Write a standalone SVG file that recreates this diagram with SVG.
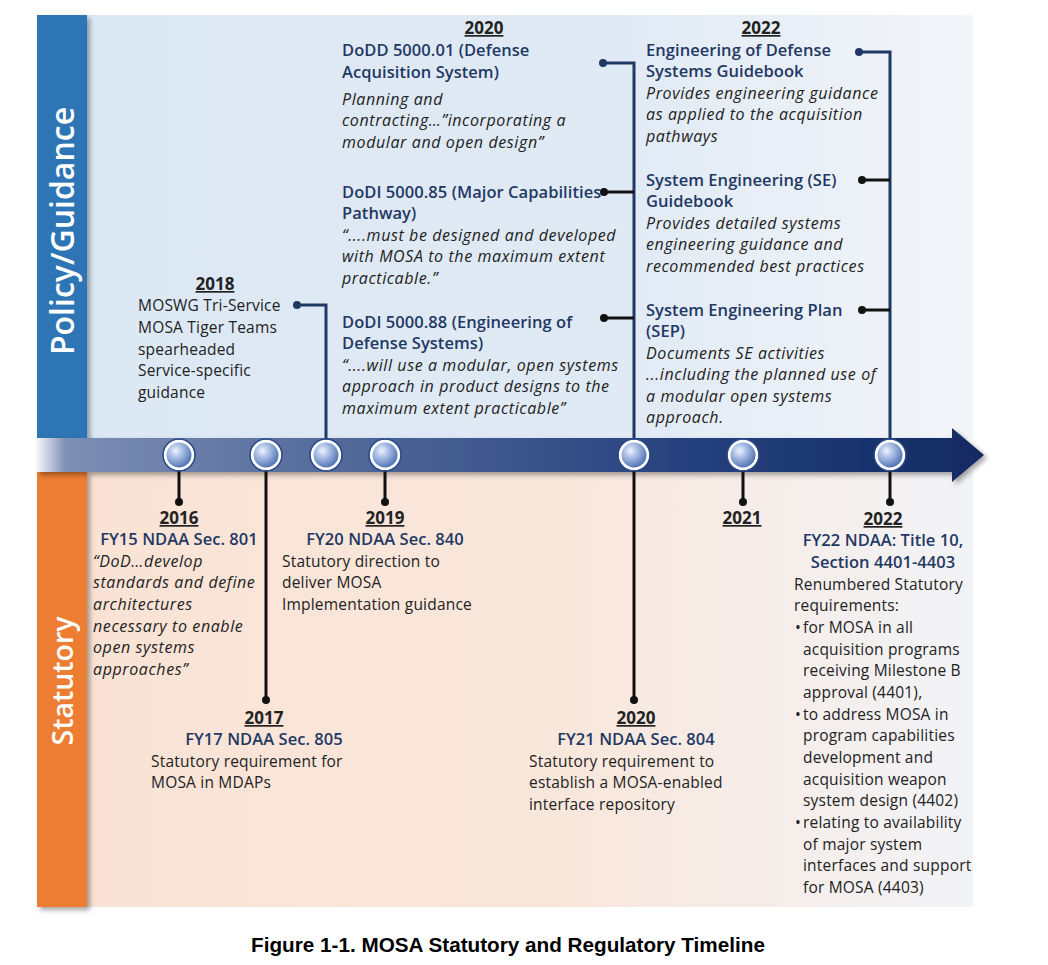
<svg xmlns="http://www.w3.org/2000/svg" width="1048" height="965" viewBox="0 0 1048 965">
<defs>
<linearGradient id="gTop" x1="0" y1="0" x2="1" y2="0">
<stop offset="0" stop-color="#dce8f4"/><stop offset="0.6" stop-color="#e0eaf5"/><stop offset="1" stop-color="#f3f5f9"/>
</linearGradient>
<linearGradient id="gBot" x1="0" y1="0" x2="1" y2="0">
<stop offset="0" stop-color="#fae3d5"/><stop offset="0.55" stop-color="#f9e7dc"/><stop offset="1" stop-color="#f2f3f7"/>
</linearGradient>
<linearGradient id="gBand" x1="37" y1="0" x2="985" y2="0" gradientUnits="userSpaceOnUse">
<stop offset="0" stop-color="#f4f6fa"/><stop offset="0.03" stop-color="#7d8fb4"/><stop offset="0.35" stop-color="#4e6597"/><stop offset="0.7" stop-color="#24407c"/><stop offset="1" stop-color="#112a62"/>
</linearGradient>
<radialGradient id="gBall" cx="0.38" cy="0.35" r="0.7">
<stop offset="0" stop-color="#eef3fc"/><stop offset="0.35" stop-color="#a9bfe6"/><stop offset="1" stop-color="#3f63a8"/>
</radialGradient>
<filter id="sh" x="-20%" y="-5%" width="150%" height="115%">
<feDropShadow dx="3" dy="3" stdDeviation="2.5" flood-color="#000" flood-opacity="0.35"/>
</filter>
<style>
.t{font-family:"Open Sans","Liberation Sans",sans-serif;font-size:15.5px;letter-spacing:0.2px;fill:#222}
.i{font-style:italic;font-size:16px;letter-spacing:0.6px}
.h{font-family:"Open Sans","Liberation Sans",sans-serif;font-size:16.5px;font-weight:600;letter-spacing:0.05px;fill:#1f3864}
.y{font-family:"Open Sans","Liberation Sans",sans-serif;font-size:17px;font-weight:700;fill:#222;text-decoration:underline}
.c{text-anchor:middle}
.side{font-family:"Open Sans","Liberation Sans",sans-serif;font-weight:600;fill:#fff;text-anchor:middle}
.nv{stroke:#1f3864;stroke-width:3;fill:none}
.bk{stroke:#111;stroke-width:3;fill:none}
.dn{fill:#1f3864}
.db{fill:#111}
.ball{fill:url(#gBall);stroke:#fff;stroke-width:3}
.ring{fill:none;stroke:#2a4a8a;stroke-width:1.5}
.cap{font-family:"Liberation Sans",Arial,sans-serif;font-size:20.7px;font-weight:700;fill:#000;text-anchor:middle}
</style>
</defs>
<rect width="1048" height="965" fill="#fff"/>
<g id="background">
<rect x="87" y="15" width="886" height="424" fill="url(#gTop)"/>
<rect x="87" y="471" width="886" height="436" fill="url(#gBot)"/>
<rect x="37" y="15" width="50" height="424" fill="#2e74b5" filter="url(#sh)"/>
<rect x="37" y="471" width="50" height="436" fill="#ed7d31" filter="url(#sh)"/>
<text class="side" font-size="32" transform="translate(74,231) rotate(-90)">Policy/Guidance</text>
<text class="side" font-size="28.5" transform="translate(73,681) rotate(-90)">Statutory</text>
</g>
<g id="timeline" filter="url(#sh)">
<path d="M37,438 H952 V428 L984,455 L952,482 V472 H37 Z" fill="url(#gBand)"/>
</g>
<g id="connectors">
<path class="bk" d="M179,455 V502"/><circle class="db" cx="179" cy="502" r="4"/>
<path class="bk" d="M266,455 V700"/><circle class="db" cx="266" cy="700" r="4"/>
<path class="nv" d="M326,455 V305 H297"/><circle class="dn" cx="297" cy="305" r="4"/>
<path class="bk" d="M385,455 V502"/><circle class="db" cx="385" cy="502" r="4"/>
<path class="nv" d="M634,455 V63 H603"/><circle class="dn" cx="603" cy="63" r="4"/>
<path class="bk" d="M634,192 H604"/><circle class="db" cx="604" cy="192" r="4"/>
<path class="bk" d="M634,318 H604"/><circle class="db" cx="604" cy="318" r="4"/>
<path class="bk" d="M634,455 V700"/><circle class="db" cx="634" cy="700" r="4"/>
<path class="bk" d="M743,455 V502"/><circle class="db" cx="743" cy="502" r="4"/>
<path class="nv" d="M890,455 V52 H859"/><circle class="dn" cx="859" cy="52" r="4"/>
<path class="bk" d="M890,180 H862"/><circle class="db" cx="862" cy="180" r="4"/>
<path class="bk" d="M890,310 H862"/><circle class="db" cx="862" cy="310" r="4"/>
<path class="bk" d="M890,455 V502"/><circle class="db" cx="890" cy="502" r="4"/>
</g>
<g id="milestones">
<circle class="ball" cx="179" cy="455" r="14"/><circle class="ring" cx="179" cy="455" r="16"/>
<circle class="ball" cx="266" cy="455" r="14"/><circle class="ring" cx="266" cy="455" r="16"/>
<circle class="ball" cx="326" cy="455" r="14"/><circle class="ring" cx="326" cy="455" r="16"/>
<circle class="ball" cx="385" cy="455" r="14"/><circle class="ring" cx="385" cy="455" r="16"/>
<circle class="ball" cx="634" cy="455" r="14"/><circle class="ring" cx="634" cy="455" r="16"/>
<circle class="ball" cx="743" cy="455" r="14"/><circle class="ring" cx="743" cy="455" r="16"/>
<circle class="ball" cx="890" cy="455" r="14"/><circle class="ring" cx="890" cy="455" r="16"/>
</g>
<g id="n2018">
<text class="y c" x="215" y="290">2018</text>
<text class="t" x="138" y="311">MOSWG Tri-Service</text>
<text class="t" x="138" y="333">MOSA Tiger Teams</text>
<text class="t" x="138" y="355">spearheaded</text>
<text class="t" x="138" y="376">Service-specific</text>
<text class="t" x="138" y="398">guidance</text>
</g>
<g id="n2020policy">
<text class="y c" x="484" y="34">2020</text>
<text class="h" x="342" y="56">DoDD 5000.01 (Defense</text>
<text class="h" x="342" y="78">Acquisition System)</text>
<text class="t i" x="342" y="105">Planning and</text>
<text class="t i" x="342" y="126">contracting…”incorporating a</text>
<text class="t i" x="342" y="148">modular and open design”</text>
<text class="h" x="342" y="198">DoDI 5000.85 (Major Capabilities</text>
<text class="h" x="342" y="219">Pathway)</text>
<text class="t i" x="342" y="241">“....must be designed and developed</text>
<text class="t i" x="342" y="262">with MOSA to the maximum extent</text>
<text class="t i" x="342" y="284">practicable.”</text>
<text class="h" x="342" y="328">DoDI 5000.88 (Engineering of</text>
<text class="h" x="342" y="349">Defense Systems)</text>
<text class="t i" x="342" y="371">“....will use a modular, open systems</text>
<text class="t i" x="342" y="392">approach in product designs to the</text>
<text class="t i" x="342" y="414">maximum extent practicable”</text>
</g>
<g id="n2022policy">
<text class="y c" x="761" y="34">2022</text>
<text class="h" x="646" y="56">Engineering of Defense</text>
<text class="h" x="646" y="77">Systems Guidebook</text>
<text class="t i" x="646" y="99">Provides engineering guidance</text>
<text class="t i" x="646" y="120">as applied to the acquisition</text>
<text class="t i" x="646" y="142">pathways</text>
<text class="h" x="646" y="186">System Engineering (SE)</text>
<text class="h" x="646" y="207">Guidebook</text>
<text class="t i" x="646" y="229">Provides detailed systems</text>
<text class="t i" x="646" y="250">engineering guidance and</text>
<text class="t i" x="646" y="272">recommended best practices</text>
<text class="h" x="646" y="316">System Engineering Plan</text>
<text class="h" x="646" y="337">(SEP)</text>
<text class="t i" x="646" y="359">Documents SE activities</text>
<text class="t i" x="646" y="380">...including the planned use of</text>
<text class="t i" x="646" y="402">a modular open systems</text>
<text class="t i" x="646" y="423">approach.</text>
</g>
<g id="n2016">
<text class="y c" x="179" y="524">2016</text>
<text class="h c" x="179" y="545">FY15 NDAA Sec. 801</text>
<text class="t i" x="93" y="567">“DoD…develop</text>
<text class="t i" x="93" y="588">standards and define</text>
<text class="t i" x="93" y="610">architectures</text>
<text class="t i" x="93" y="632">necessary to enable</text>
<text class="t i" x="93" y="653">open systems</text>
<text class="t i" x="93" y="675">approaches”</text>
</g>
<g id="n2019">
<text class="y c" x="385" y="524">2019</text>
<text class="h c" x="385" y="545">FY20 NDAA Sec. 840</text>
<text class="t" x="282" y="567">Statutory direction to</text>
<text class="t" x="282" y="588">deliver MOSA</text>
<text class="t" x="282" y="610">Implementation guidance</text>
</g>
<g id="n2017">
<text class="y c" x="264" y="724">2017</text>
<text class="h c" x="264" y="745">FY17 NDAA Sec. 805</text>
<text class="t" x="151" y="767">Statutory requirement for</text>
<text class="t" x="151" y="788">MOSA in MDAPs</text>
</g>
<g id="n2020stat">
<text class="y c" x="636" y="724">2020</text>
<text class="h c" x="636" y="745">FY21 NDAA Sec. 804</text>
<text class="t" x="529" y="767">Statutory requirement to</text>
<text class="t" x="529" y="788">establish a MOSA-enabled</text>
<text class="t" x="529" y="810">interface repository</text>
</g>
<g id="n2021">
<text class="y c" x="742" y="524">2021</text>
</g>
<g id="n2022stat">
<text class="y c" x="883" y="525">2022</text>
<text class="h c" x="883" y="546">FY22 NDAA: Title 10,</text>
<text class="h c" x="883" y="568">Section 4401-4403</text>
<text class="t" x="794" y="590">Renumbered Statutory</text>
<text class="t" x="794" y="611">requirements:</text>
<text class="t" x="795" y="633">•</text><text class="t" x="803" y="633">for MOSA in all</text>
<text class="t" x="803" y="655">acquisition programs</text>
<text class="t" x="803" y="676">receiving Milestone B</text>
<text class="t" x="803" y="698">approval (4401),</text>
<text class="t" x="795" y="720">•</text><text class="t" x="803" y="720">to address MOSA in</text>
<text class="t" x="803" y="741">program capabilities</text>
<text class="t" x="803" y="763">development and</text>
<text class="t" x="803" y="785">acquisition weapon</text>
<text class="t" x="803" y="806">system design (4402)</text>
<text class="t" x="795" y="828">•</text><text class="t" x="803" y="828">relating to availability</text>
<text class="t" x="803" y="850">of major system</text>
<text class="t" x="803" y="871">interfaces and support</text>
<text class="t" x="803" y="893">for MOSA (4403)</text>
</g>
<g id="caption">
<text class="cap" x="508" y="952">Figure 1-1. MOSA Statutory and Regulatory Timeline</text>
</g>
</svg>
